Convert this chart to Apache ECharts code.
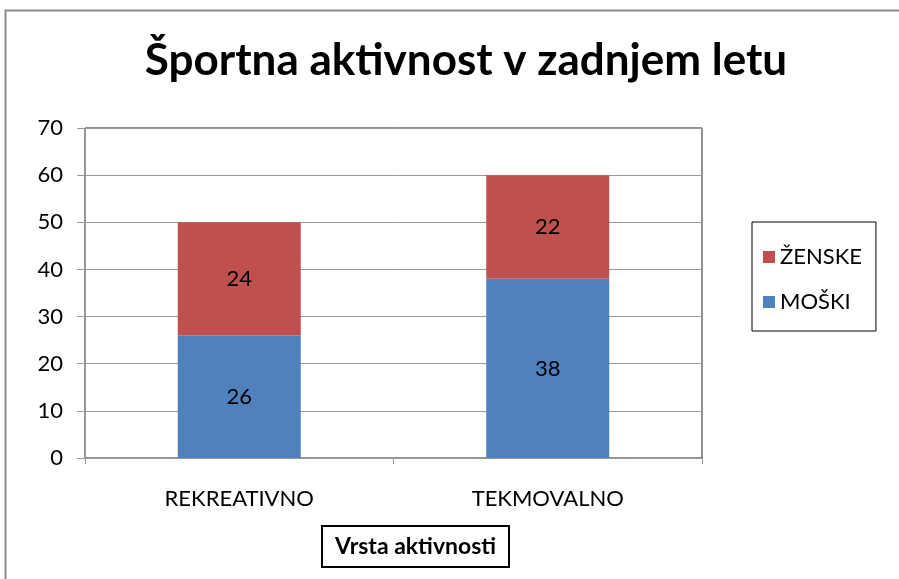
<!DOCTYPE html>
<html><head><meta charset="utf-8">
<script src="https://cdn.jsdelivr.net/npm/echarts@6/dist/echarts.min.js"></script>
<style>html,body{margin:0;padding:0;background:#fff;overflow:hidden}#c{width:899px;height:579px}</style>
</head><body><div id="c"></div>
<script>
const titleText = 'Športna aktivnost v zadnjem letu';
const categories = ['REKREATIVNO', 'TEKMOVALNO'];
const moski = [26, 38];
const zenske = [24, 22];
const yTicks = { min: 0, max: 70, interval: 10 };
const xName = 'Vrsta aktivnosti';
const FONT = 'Lato, "Open Sans", sans-serif';

const chart = echarts.init(document.getElementById('c'), null, { width: 899, height: 579 });
chart.setOption({
  animation: false,
  backgroundColor: '#fff',
  textStyle: { fontFamily: FONT },
  graphic: [
    { type: 'polyline', shape: { points: [[5.5, 579], [5.5, 10.5], [899, 10.5]] }, style: { stroke: '#8c8c8c', lineWidth: 2, fill: null }, silent: true }
  ],
  title: [
    {
      text: titleText, left: 461, textAlign: 'center', top: 34,
      textStyle: { fontFamily: FONT, fontWeight: 'bold', fontSize: 44, color: '#000' }
    },
    {
      text: xName, left: 322, top: 526,
      borderColor: '#000', borderWidth: 2, padding: [9, 13, 8, 13],
      textStyle: { fontFamily: FONT, fontWeight: 'bold', fontSize: 23, lineHeight: 24, color: '#000' }
    }
  ],
  legend: {
    orient: 'vertical', left: 752, top: 222,
    padding: [24, 14, 18, 11], itemGap: 23,
    borderColor: '#000', borderWidth: 1,
    itemWidth: 12, itemHeight: 12, icon: 'rect',
    data: ['ŽENSKE', 'MOŠKI'],
    textStyle: { fontFamily: FONT, fontSize: 22, color: '#000' }
  },
  grid: { left: 85, top: 128, width: 617, height: 330, outerBoundsMode: 'none', containLabel: false,
    show: true, borderColor: '#222', borderWidth: 1, backgroundColor: 'transparent' },
  xAxis: {
    type: 'category', data: categories,
    axisLine: { lineStyle: { color: '#999', width: 1 } },
    axisTick: { show: true, length: 6, lineStyle: { color: '#999' } },
    axisLabel: { fontFamily: FONT, fontSize: 22, color: '#000', margin: 30 }
  },
  yAxis: {
    type: 'value', min: yTicks.min, max: yTicks.max, interval: yTicks.interval,
    axisLine: { show: true, lineStyle: { color: '#999' } },
    axisTick: { show: true, length: 8, lineStyle: { color: '#999' } },
    splitLine: { lineStyle: { color: '#999' } },
    axisLabel: { fontFamily: FONT, fontSize: 22, color: '#000', margin: 22 }
  },
  series: [
    { name: 'MOŠKI', type: 'bar', stack: 's', data: moski, barWidth: 123,
      itemStyle: { color: '#4f81bd' },
      label: { show: true, position: 'inside', fontFamily: FONT, fontSize: 22, color: '#000' } },
    { name: 'ŽENSKE', type: 'bar', stack: 's', data: zenske, barWidth: 123,
      itemStyle: { color: '#c0504d' },
      label: { show: true, position: 'inside', fontFamily: FONT, fontSize: 22, color: '#000' } }
  ]
});
</script></body></html>
